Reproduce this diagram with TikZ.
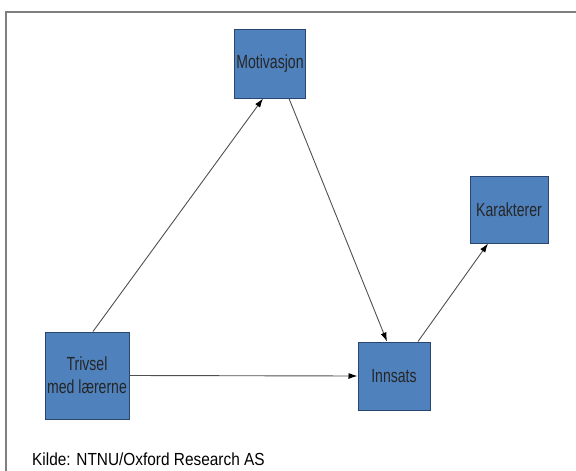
\documentclass[tikz,border=0pt]{standalone}
\usepackage{fontspec}
\setmainfont{Liberation Sans}
\newfontfamily\boxfont[FakeStretch=0.74]{Liberation Sans}
\newfontfamily\srcfont[FakeStretch=0.88]{Liberation Sans}
\usetikzlibrary{arrows.meta}
\definecolor{boxfill}{HTML}{4F81BD}
\definecolor{boxline}{HTML}{2A4670}
\definecolor{frameline}{HTML}{7F7F7F}
\definecolor{arrline}{HTML}{505050}
\tikzset{
  box/.style={draw=boxline, line width=1pt, fill=boxfill, inner sep=0pt, align=center,
    font=\boxfont\fontsize{19}{23}\selectfont, text=black!85},
  conn/.style={draw=arrline, line width=0.9pt, -{Latex[length=9pt,width=6pt,color=black]}}
}
\begin{document}
\begin{tikzpicture}[x=1pt,y=-1pt]
\useasboundingbox (0,0) rectangle (576,471);
\draw[frameline, line width=1.6pt] (6,12) rectangle (590,490);
\node[box, minimum width=71pt, minimum height=69pt] (mot) at (270,63.5) {Motivasjon};
\node[box, minimum width=84pt, minimum height=87pt] (tri) at (87,375.5) {Trivsel\\med lærerne};
\node[box, minimum width=72pt, minimum height=68pt] (inn) at (394,376) {Innsats};
\node[box, minimum width=78pt, minimum height=67pt] (kar) at (509,209.5) {Karakterer};
\draw[conn] ([xshift=6pt]tri.north) -- ([xshift=-7pt]mot.south);
\draw[conn] ([xshift=19pt]mot.south) -- ([xshift=-7pt]inn.north);
\draw[conn] (tri.east) -- (inn.west);
\draw[conn] ([xshift=24pt]inn.north) -- ([xshift=-21pt]kar.south);
\node[anchor=base west, inner sep=0pt, font=\srcfont\fontsize{17.5}{20}\selectfont] (src) at (32,465) {Kilde: NTNU/Oxford Research AS};
\end{tikzpicture}
\end{document}
